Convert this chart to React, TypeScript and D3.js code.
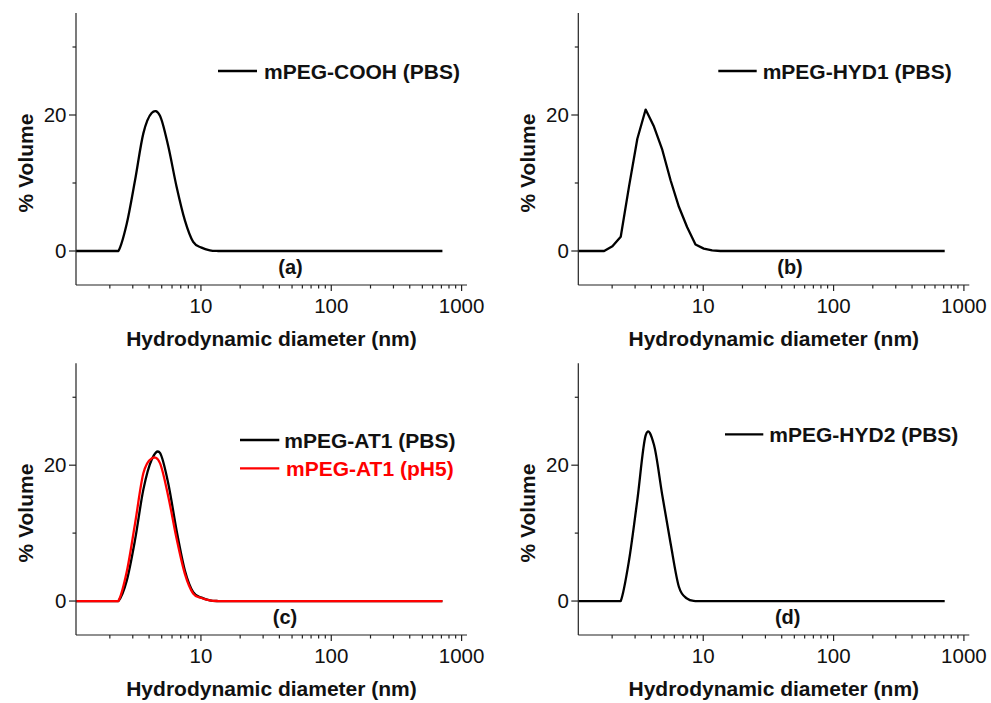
import React from "react";
import * as d3 from "d3";

// Zetasizer size bins (nm)
const SIZES = [
  0.9649, 1.117, 1.294, 1.499, 1.736, 2.01, 2.328, 2.696, 3.122, 3.615, 4.187, 4.849, 5.615, 6.503, 7.531, 8.721,
  10.1, 11.7, 13.54, 15.69, 18.17, 21.04, 24.36, 28.21, 32.67, 37.84, 43.82, 50.75, 58.77, 68.06, 78.82, 91.28,
  105.7, 122.4, 141.8, 164.2, 190.1, 220.2, 255.0, 295.3, 342.0, 396.1, 458.7, 531.2, 615.1, 712.4,
];

const COOH_PBS = [
  0, 0, 0, 0, 0, 0, 0, 4.0, 10.4, 17.3, 20.3, 19.9, 15.4, 9.45, 4.5, 1.33,
  0.5, 0.1, 0, 0, 0, 0, 0, 0, 0, 0, 0, 0, 0, 0, 0, 0,
  0, 0, 0, 0, 0, 0, 0, 0, 0, 0, 0, 0, 0, 0,
];
const HYD1_PBS = [
  0, 0, 0, 0, 0, 0.7, 2.1, 9.5, 16.5, 20.8, 18.3, 14.9, 10.4, 6.5, 3.5, 0.95,
  0.35, 0.1, 0, 0, 0, 0, 0, 0, 0, 0, 0, 0, 0, 0, 0, 0,
  0, 0, 0, 0, 0, 0, 0, 0, 0, 0, 0, 0, 0, 0,
];
const AT1_PBS = [
  0, 0, 0, 0, 0, 0, 0, 3.0, 9.0, 16.4, 20.8, 21.8, 17.3, 10.4, 4.5, 1.3,
  0.5, 0.1, 0, 0, 0, 0, 0, 0, 0, 0, 0, 0, 0, 0, 0, 0,
  0, 0, 0, 0, 0, 0, 0, 0, 0, 0, 0, 0, 0, 0,
];
const AT1_PH5 = [
  0, 0, 0, 0, 0, 0, 0, 4.3, 11.4, 18.8, 21.0, 20.3, 15.4, 9.2, 4.0, 1.1,
  0.45, 0.1, 0, 0, 0, 0, 0, 0, 0, 0, 0, 0, 0, 0, 0, 0,
  0, 0, 0, 0, 0, 0, 0, 0, 0, 0, 0, 0, 0, 0,
];
const HYD2_PBS = [
  0, 0, 0, 0, 0, 0, 0, 6.0, 14.9, 24.4, 23.0, 15.6, 8.5, 2.1, 0.35, 0,
  0, 0, 0, 0, 0, 0, 0, 0, 0, 0, 0, 0, 0, 0, 0, 0,
  0, 0, 0, 0, 0, 0, 0, 0, 0, 0, 0, 0, 0, 0,
];

const X_TICKS = [10, 100, 1000];
const X_TICK_LABELS = ["10", "100", "1000"];
const Y_MAJOR = [0, 20];
const Y_MINOR = [10, 30];
const X_DOMAIN = [1.1, 1100];
const Y_DOMAIN = [-5, 35];

type Series = { name: string; values: number[]; color: string; legendY: number; legendX: number };

const FONT = "Arial, 'Liberation Sans', sans-serif";

const PANELS = [
  {
    id: "a", left: 76, top: 13, right: 467, bottom: 285, label: "(a)", labelX: 290.5, smooth: true,
    lineX0: 218, lineX1: 257,
    series: [{ name: "mPEG-COOH (PBS)", values: COOH_PBS, color: "#000", legendY: 71, legendX: 264 }] as Series[],
  },
  {
    id: "b", left: 578.3, top: 13, right: 969.3, bottom: 285, label: "(b)", labelX: 790, smooth: false,
    lineX0: 718.3, lineX1: 756.7,
    series: [{ name: "mPEG-HYD1 (PBS)", values: HYD1_PBS, color: "#000", legendY: 71, legendX: 762.7 }] as Series[],
  },
  {
    id: "c", left: 76, top: 363.3, right: 467, bottom: 635, label: "(c)", labelX: 285, smooth: true,
    lineX0: 240, lineX1: 279.3,
    series: [
      { name: "mPEG-AT1 (PBS)", values: AT1_PBS, color: "#000", legendY: 440, legendX: 284.3 },
      { name: "mPEG-AT1 (pH5)", values: AT1_PH5, color: "#ff0000", legendY: 468.3, legendX: 286 },
    ] as Series[],
  },
  {
    id: "d", left: 578.3, top: 363.3, right: 969.3, bottom: 635, label: "(d)", labelX: 787.7, smooth: true,
    lineX0: 725, lineX1: 763.3,
    series: [{ name: "mPEG-HYD2 (PBS)", values: HYD2_PBS, color: "#000", legendY: 434.3, legendX: 769.3 }] as Series[],
  },
];

// Cardinal-type Hermite spline through the points; flat zero runs are kept straight.
function splinePath(
  values: number[],
  x: d3.ScaleLogarithmic<number, number>,
  y: d3.ScaleLinear<number, number>,
  smooth: boolean
): string {
  const px = SIZES.map((s) => x(s));
  const py = values.map((v) => y(v));
  const n = px.length;
  const p = d3.path();
  p.moveTo(px[0], py[0]);
  if (!smooth) {
    for (let i = 1; i < n; i++) p.lineTo(px[i], py[i]);
    return p.toString();
  }
  const m = px.map((_, i) => {
    const a = Math.max(0, i - 1);
    const b = Math.min(n - 1, i + 1);
    return (py[b] - py[a]) / (px[b] - px[a]);
  });
  for (let i = 0; i < n - 1; i++) {
    const dx = px[i + 1] - px[i];
    if (values[i] === 0 && values[i + 1] === 0) {
      p.lineTo(px[i + 1], py[i + 1]);
    } else {
      p.bezierCurveTo(
        px[i] + dx / 3,
        py[i] + (m[i] * dx) / 3,
        px[i + 1] - dx / 3,
        py[i + 1] - (m[i + 1] * dx) / 3,
        px[i + 1],
        py[i + 1]
      );
    }
  }
  return p.toString();
}

function Panel({ p }: { p: (typeof PANELS)[number] }) {
  const x = d3.scaleLog().domain(X_DOMAIN).range([p.left, p.right]);
  const y = d3.scaleLinear().domain(Y_DOMAIN).range([p.bottom, p.top]);
  const minorX: number[] = [];
  for (const dec of [1, 10, 100]) {
    for (let k = 2; k <= 9; k++) {
      const v = dec * k;
      if (v >= X_DOMAIN[0] && v <= X_DOMAIN[1] && !X_TICKS.includes(v)) minorX.push(v);
    }
  }
  const clipId = `clip-${p.id}`;
  const axisColor = "#222";
  const zeroY = y(0);
  return (
    <g>
      <defs>
        <clipPath id={clipId}>
          <rect x={p.left} y={p.top} width={p.right - p.left} height={p.bottom - p.top} />
        </clipPath>
      </defs>
      <g clipPath={`url(#${clipId})`}>
        {p.series.map((s) => (
          <path
            key={s.name}
            d={splinePath(s.values, x, y, p.smooth)}
            fill="none"
            stroke={s.color}
            strokeWidth={2.3}
            strokeLinejoin="round"
          />
        ))}
      </g>
      <line x1={p.left} x2={p.left} y1={p.top} y2={p.bottom} stroke={axisColor} strokeWidth={1.2} />
      <line x1={p.left} x2={p.right} y1={p.bottom} y2={p.bottom} stroke={axisColor} strokeWidth={1.2} />
      {Y_MAJOR.map((v) => (
        <g key={`ym${v}`}>
          <line x1={p.left - 7} x2={p.left} y1={y(v)} y2={y(v)} stroke={axisColor} strokeWidth={1.2} />
          <text x={p.left - 9.5} y={y(v)} dy="0.35em" textAnchor="end" fontSize={20.5} fontFamily={FONT} fill="#111">
            {v}
          </text>
        </g>
      ))}
      {Y_MINOR.map((v) => (
        <line key={`yn${v}`} x1={p.left - 3.5} x2={p.left} y1={y(v)} y2={y(v)} stroke={axisColor} strokeWidth={1.2} />
      ))}
      {X_TICKS.map((v, i) => (
        <g key={`xm${v}`}>
          <line x1={x(v)} x2={x(v)} y1={p.bottom} y2={p.bottom + 6} stroke={axisColor} strokeWidth={1.2} />
          <text x={x(v)} y={p.bottom + 28} textAnchor="middle" fontSize={20.5} fontFamily={FONT} fill="#111">
            {X_TICK_LABELS[i]}
          </text>
        </g>
      ))}
      {minorX.map((v) => (
        <line key={`xn${v}`} x1={x(v)} x2={x(v)} y1={p.bottom} y2={p.bottom + 3.5} stroke={axisColor} strokeWidth={1.2} />
      ))}
      <text
        x={(p.left + p.right) / 2}
        y={p.bottom + 61}
        textAnchor="middle"
        fontSize={21}
        fontWeight="bold"
        fontFamily={FONT}
        fill="#111"
      >
        Hydrodynamic diameter (nm)
      </text>
      <text
        transform={`translate(${p.left - 43},${zeroY - 88}) rotate(-90)`}
        textAnchor="middle"
        fontSize={21}
        fontWeight="bold"
        fontFamily={FONT}
        fill="#111"
      >
        % Volume
      </text>
      <text x={p.labelX} y={zeroY + 22.5} textAnchor="middle" fontSize={20} fontWeight="bold" fontFamily={FONT} fill="#111">
        {p.label}
      </text>
      {p.series.map((s) => (
        <g key={`lg${s.name}`}>
          <line x1={p.lineX0} x2={p.lineX1} y1={s.legendY} y2={s.legendY} stroke={s.color} strokeWidth={2.3} />
          <text
            x={s.legendX}
            y={s.legendY + 7.5}
            fontSize={21}
            fontWeight="bold"
            fontFamily={FONT}
            fill={s.color === "#000" ? "#111" : s.color}
          >
            {s.name}
          </text>
        </g>
      ))}
    </g>
  );
}

export default function App() {
  return (
    <svg
      width={991}
      height={703}
      viewBox="0 0 991 703"
      style={{ position: "absolute", left: 0, top: 0, background: "#fff" }}
    >
      <rect x={0} y={0} width={991} height={703} fill="#fff" />
      {PANELS.map((p) => (
        <Panel key={p.id} p={p} />
      ))}
    </svg>
  );
}
